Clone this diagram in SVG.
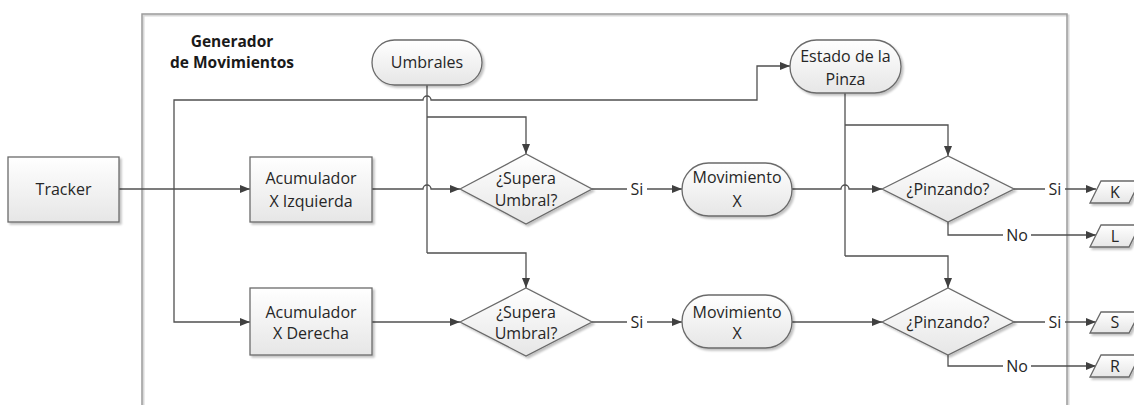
<svg xmlns="http://www.w3.org/2000/svg" width="1134" height="405" viewBox="0 0 1134 405">
  <defs>
    <linearGradient id="nodeFill" x1="0" y1="0" x2="0" y2="1">
      <stop offset="0" stop-color="#ffffff"/>
      <stop offset="1" stop-color="#e6e6e6"/>
    </linearGradient>
    <filter id="shadow" x="-10%" y="-10%" width="130%" height="140%">
      <feGaussianBlur in="SourceAlpha" stdDeviation="1.2"/>
      <feOffset dx="1.5" dy="2" result="b"/>
      <feComponentTransfer><feFuncA type="linear" slope="0.25"/></feComponentTransfer>
      <feMerge><feMergeNode/><feMergeNode in="SourceGraphic"/></feMerge>
    </filter>
    <marker id="arrow" viewBox="0 0 10 10" refX="10" refY="5" markerWidth="10" markerHeight="10" markerUnits="userSpaceOnUse" orient="auto">
      <path d="M0,1 L10,5 L0,9 Z" fill="#404040"/>
    </marker>
  </defs>
  <style>
    .node { fill: url(#nodeFill); stroke: #6a6a6a; stroke-width: 1.3; filter: url(#shadow); }
    .txt { font-family: "Open Sans", "Noto Sans", "Liberation Sans", sans-serif; font-size: 16px; fill: #262626; text-anchor: middle; }
    .title { font-family: "Open Sans", "Noto Sans", "Liberation Sans", sans-serif; font-size: 15.5px; font-weight: bold; fill: #1a1a1a; text-anchor: middle; }
    .wire { fill: none; stroke: #505050; stroke-width: 1.3; }
    .arr { marker-end: url(#arrow); }
    .lbl { font-family: "Open Sans", "Noto Sans", "Liberation Sans", sans-serif; font-size: 16px; fill: #262626; text-anchor: middle; }
    .lblbg { fill: #ffffff; }
  </style>

  <rect width="1134" height="405" fill="#ffffff"/>

  <!-- container: Generador de Movimientos -->
  <g id="generador">
    <rect x="143.5" y="15.5" width="925" height="420" fill="none" stroke="#d8d8d8" stroke-width="2"/>
    <rect x="142" y="14" width="925" height="420" fill="none" stroke="#9a9a9a" stroke-width="1.5"/>
    <text class="title" x="232" y="47">Generador</text>
    <text class="title" x="232" y="68">de Movimientos</text>
  </g>

  <!-- connectors -->
  <g id="connectors">
    <!-- Tracker to Acumulador X Izquierda -->
    <path class="wire arr" d="M119,189 H250"/>
    <!-- branch up to Estado de la Pinza (jump over Umbrales stem) -->
    <path class="wire arr" d="M174,189 V100 H423 A4,4 0 0 1 431,100 H757 V66 H790"/>
    <!-- branch down to Acumulador X Derecha -->
    <path class="wire arr" d="M174,189 V322 H250"/>

    <!-- Umbrales stem and branches -->
    <path class="wire" d="M427,85 V253"/>
    <path class="wire arr" d="M427,117 H526 V154"/>
    <path class="wire arr" d="M427,253 H526 V288"/>

    <!-- Acumulador X Izquierda to decision (jump over Umbrales stem) -->
    <path class="wire arr" d="M372,189 H423 A4,4 0 0 1 431,189 H460"/>
    <!-- Acumulador X Derecha to decision -->
    <path class="wire arr" d="M372,322 H460"/>

    <!-- Si: decision to Movimiento X -->
    <path class="wire arr" d="M592,189 H682"/>
    <path class="wire arr" d="M592,322 H682"/>

    <!-- Estado de la Pinza stem and branches -->
    <path class="wire" d="M845,93 V256"/>
    <path class="wire arr" d="M845,125 H948 V156"/>
    <path class="wire arr" d="M845,256 H948 V288"/>

    <!-- Movimiento X to ¿Pinzando? -->
    <path class="wire arr" d="M792,189 H841 A4,4 0 0 1 849,189 H882"/>
    <path class="wire arr" d="M792,322 H882"/>

    <!-- ¿Pinzando? outputs -->
    <path class="wire arr" d="M1014,189 H1096"/>
    <path class="wire arr" d="M948,222 V235 H1096"/>
    <path class="wire arr" d="M1014,322 H1096"/>
    <path class="wire arr" d="M948,355 V366 H1096"/>

    <!-- labels -->
    <rect class="lblbg" x="627" y="180" width="20" height="18"/>
    <text class="lbl" x="637" y="195">Si</text>
    <rect class="lblbg" x="627" y="313" width="20" height="18"/>
    <text class="lbl" x="637" y="328">Si</text>
    <rect class="lblbg" x="1045" y="180" width="20" height="18"/>
    <text class="lbl" x="1055" y="195">Si</text>
    <rect class="lblbg" x="1045" y="313" width="20" height="18"/>
    <text class="lbl" x="1055" y="328">Si</text>
    <rect class="lblbg" x="1003" y="226" width="28" height="18"/>
    <text class="lbl" x="1017" y="241">No</text>
    <rect class="lblbg" x="1003" y="357" width="28" height="18"/>
    <text class="lbl" x="1017" y="372">No</text>
  </g>

  <g id="tracker">
    <rect class="node" x="8" y="157" width="111" height="65"/>
    <text class="txt" x="63.5" y="195">Tracker</text>
  </g>

  <g id="umbrales">
    <rect class="node" x="372" y="40" width="110" height="45" rx="22.5"/>
    <text class="txt" x="427" y="68">Umbrales</text>
  </g>

  <g id="estado-pinza">
    <rect class="node" x="790" y="40" width="111" height="53" rx="26.5"/>
    <text class="txt" x="845.5" y="61.5">Estado de la</text>
    <text class="txt" x="845.5" y="84.5">Pinza</text>
  </g>

  <g id="acum-izquierda">
    <rect class="node" x="250" y="157" width="122" height="65"/>
    <text class="txt" x="311" y="183.5">Acumulador</text>
    <text class="txt" x="311" y="207">X Izquierda</text>
  </g>

  <g id="acum-derecha">
    <rect class="node" x="250" y="288" width="122" height="67"/>
    <text class="txt" x="311" y="317.5">Acumulador</text>
    <text class="txt" x="311" y="339">X Derecha</text>
  </g>

  <g id="supera-izq">
    <polygon class="node" points="460,189 526,154 592,189 526,224"/>
    <text class="txt" x="526" y="183.5">¿Supera</text>
    <text class="txt" x="526" y="206">Umbral?</text>
  </g>

  <g id="supera-der">
    <polygon class="node" points="460,322 526,288 592,322 526,356"/>
    <text class="txt" x="526" y="317.5">¿Supera</text>
    <text class="txt" x="526" y="339">Umbral?</text>
  </g>

  <g id="movimiento-izq">
    <rect class="node" x="682" y="163" width="110" height="53" rx="26.5"/>
    <text class="txt" x="737" y="182.5">Movimiento</text>
    <text class="txt" x="737" y="207">X</text>
  </g>

  <g id="movimiento-der">
    <rect class="node" x="682" y="295" width="110" height="53" rx="26.5"/>
    <text class="txt" x="737" y="317.5">Movimiento</text>
    <text class="txt" x="737" y="339">X</text>
  </g>

  <g id="pinzando-izq">
    <polygon class="node" points="882,189 948,156 1014,189 948,222"/>
    <text class="txt" x="948" y="195">¿Pinzando?</text>
  </g>

  <g id="pinzando-der">
    <polygon class="node" points="882,322 948,288 1014,322 948,355"/>
    <text class="txt" x="948" y="328">¿Pinzando?</text>
  </g>

  <!-- outputs -->
  <g id="out-k">
    <polygon class="node" points="1090,203 1101,181 1140,181 1129,203"/>
    <text class="txt" x="1115" y="197.5">K</text>
  </g>
  <g id="out-l">
    <polygon class="node" points="1090,247 1101,225 1140,225 1129,247"/>
    <text class="txt" x="1115" y="241.5">L</text>
  </g>
  <g id="out-s">
    <polygon class="node" points="1090,333 1101,312 1140,312 1129,333"/>
    <text class="txt" x="1115" y="328">S</text>
  </g>
  <g id="out-r">
    <polygon class="node" points="1090,377 1101,355 1140,355 1129,377"/>
    <text class="txt" x="1115" y="371.5">R</text>
  </g>
</svg>
